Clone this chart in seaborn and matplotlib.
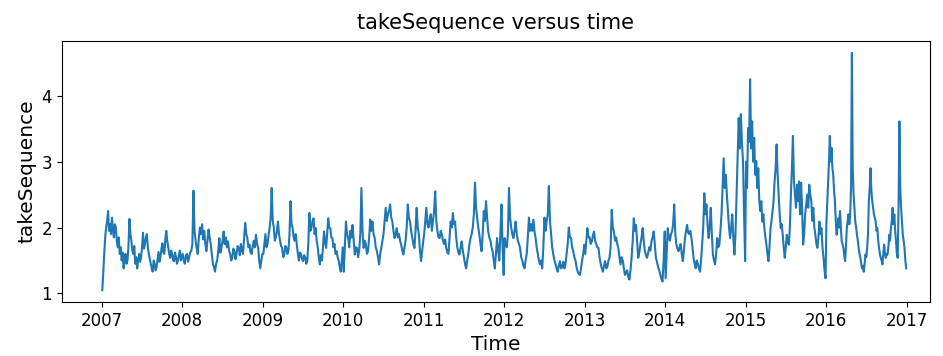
import pandas as pd
import matplotlib
matplotlib.use("Agg")
import matplotlib.pyplot as plt
import matplotlib.dates as mdates
import seaborn as sns

# takeSequence readings, one list per calendar year
take_2007 = [1.05, 1.3, 1.6, 1.85, 2.0, 2.1, 2.25, 1.95, 2.05, 1.9, 2.15, 1.95, 1.85, 2.05,
             2.0, 1.8, 1.7, 1.85, 1.6, 1.7, 1.5, 1.62, 1.38, 1.52, 1.6, 1.45, 1.5, 1.72,
             2.13, 1.9, 1.8, 1.65, 1.6, 1.72, 1.45, 1.55, 1.38, 1.5, 1.6, 1.48, 1.55, 1.7,
             1.92, 1.68, 1.75, 1.85, 1.9, 1.7, 1.6, 1.52, 1.45, 1.38, 1.33, 1.5, 1.45, 1.35,
             1.4, 1.52, 1.63, 1.48, 1.55, 1.68, 1.76, 1.62, 1.6, 1.82, 1.95, 1.8, 1.7, 1.6,
             1.54, 1.65, 1.6, 1.5, 1.49, 1.62, 1.55, 1.45, 1.5, 1.58, 1.65, 1.5, 1.55]
take_2008 = [1.6, 1.5, 1.45, 1.58, 1.6, 1.48, 1.55, 1.62, 1.65, 1.75, 2.56, 1.95, 1.8, 1.68,
             1.6, 1.85, 2.0, 1.9, 2.05, 1.82, 1.95, 1.75, 1.64, 1.8, 1.97, 1.85, 1.75, 1.6,
             1.45, 1.4, 1.33, 1.45, 1.5, 1.65, 1.84, 1.62, 1.7, 1.8, 1.94, 1.75, 1.85, 1.7,
             1.79, 1.65, 1.6, 1.5, 1.54, 1.68, 1.64, 1.52, 1.6, 1.72, 1.69, 1.58, 1.75, 1.65,
             1.6, 1.85, 2.07, 1.9, 1.84, 1.7, 1.74, 1.62, 1.6, 1.72, 1.8, 1.7, 1.89, 1.75,
             1.7, 1.5, 1.38, 1.5, 1.6]
take_2009 = [1.6, 1.75, 1.9, 1.7, 1.75, 1.88, 1.99, 2.15, 2.6, 2.1, 2.0, 1.8, 1.85, 1.95,
             2.09, 1.9, 1.8, 1.72, 1.69, 1.55, 1.59, 1.72, 1.7, 1.6, 1.65, 1.9, 2.4, 2.05,
             1.99, 1.85, 1.8, 1.9, 1.74, 1.6, 1.5, 1.62, 1.6, 1.52, 1.49, 1.58, 1.55, 1.45,
             1.49, 1.75, 2.22, 1.95, 2.0, 2.1, 2.14, 1.9, 1.99, 1.8, 1.7, 1.55, 1.44, 1.58,
             1.5, 1.7, 1.94, 1.8, 1.69, 1.9, 2.14, 2.0, 1.99, 1.85, 1.84, 1.7, 1.75, 1.6,
             1.64, 1.55, 1.5, 1.4, 1.33, 1.5, 1.7]
take_2010 = [1.33, 1.7, 2.09, 1.9, 1.84, 1.7, 1.95, 1.85, 2.04, 1.8, 1.59, 1.7, 1.69, 1.55,
             1.65, 1.9, 2.6, 1.95, 1.69, 1.8, 1.75, 1.6, 1.64, 1.85, 2.12, 1.95, 2.09, 1.9,
             1.84, 1.7, 1.64, 1.55, 1.44, 1.6, 1.69, 1.8, 1.9, 2.1, 2.3, 2.1, 2.2, 2.25,
             2.35, 2.15, 2.09, 1.95, 1.84, 1.9, 1.99, 1.85, 1.9, 1.8, 1.74, 1.65, 1.59, 1.7,
             1.8, 2.0, 2.35, 2.15, 2.09, 1.95, 1.85, 1.75, 1.69, 1.95, 2.3, 2.0, 1.9, 1.65,
             1.49, 1.65, 1.8]
take_2011 = [1.9, 2.1, 2.3, 2.05, 2.0, 2.12, 2.2, 1.95, 2.1, 2.25, 2.55, 2.1, 1.95, 1.85,
             1.84, 1.95, 1.9, 1.8, 1.75, 1.82, 1.69, 1.62, 1.6, 1.85, 2.09, 2.0, 2.22, 2.05,
             2.09, 1.85, 1.7, 1.62, 1.59, 1.7, 1.79, 1.65, 1.55, 1.45, 1.38, 1.5, 1.6, 1.75,
             1.84, 1.9, 2.0, 2.2, 2.68, 2.3, 2.15, 2.0, 1.89, 1.75, 1.64, 1.9, 2.25, 2.1,
             2.4, 2.15, 1.94, 1.85, 1.8, 1.7, 1.64, 1.5, 1.38, 1.6, 1.84, 1.65, 1.5, 1.9,
             2.35, 1.7, 1.28]
take_2012 = [1.84, 1.75, 1.7, 1.9, 2.6, 2.15, 2.0, 1.9, 1.84, 1.95, 2.09, 1.9, 1.8, 1.75,
             1.69, 1.55, 1.5, 1.42, 1.38, 1.5, 1.6, 1.85, 2.15, 1.95, 2.05, 1.95, 2.12, 1.95,
             1.84, 1.7, 1.6, 1.5, 1.44, 1.5, 1.38, 1.7, 2.15, 1.95, 2.09, 2.2, 2.63, 2.1,
             1.89, 1.7, 1.59, 1.5, 1.45, 1.38, 1.33, 1.42, 1.49, 1.38, 1.4, 1.48, 1.38, 1.45,
             1.6, 1.75, 2.0, 1.85, 1.84, 1.7, 1.64, 1.55, 1.5, 1.4, 1.33, 1.3, 1.28, 1.38,
             1.5, 1.6, 1.74]
take_2013 = [1.6, 1.8, 1.99, 1.85, 1.85, 1.75, 1.79, 1.88, 1.94, 1.8, 1.75, 1.7, 1.69, 1.55,
             1.45, 1.38, 1.33, 1.42, 1.49, 1.38, 1.4, 1.5, 1.54, 1.7, 2.27, 2.0, 1.94, 1.8,
             1.85, 1.75, 1.69, 1.55, 1.44, 1.55, 1.5, 1.38, 1.28, 1.32, 1.35, 1.25, 1.21, 1.35,
             1.54, 1.8, 2.14, 1.95, 2.04, 1.8, 1.54, 1.62, 1.75, 1.85, 1.99, 1.8, 1.64, 1.58,
             1.54, 1.62, 1.7, 1.65, 1.79, 1.85, 1.94, 1.75, 1.54, 1.48, 1.4, 1.35, 1.28, 1.22,
             1.18, 1.5, 1.94]
take_2014 = [1.23, 1.6, 1.99, 1.85, 1.8, 1.9, 1.94, 2.05, 2.35, 1.9, 1.74, 1.68, 1.64, 1.7,
             1.75, 1.6, 1.49, 1.65, 1.84, 1.95, 2.04, 1.92, 1.9, 1.95, 1.84, 1.7, 1.54, 1.45,
             1.38, 1.5, 1.45, 1.38, 1.33, 1.5, 1.74, 2.0, 2.52, 2.2, 2.35, 2.05, 1.84, 2.0,
             2.3, 1.9, 1.59, 1.5, 1.44, 1.6, 1.84, 1.7, 1.74, 1.95, 2.2, 2.6, 3.05, 2.6,
             2.8, 2.5, 2.25, 2.0, 1.84, 2.0, 2.2, 1.85, 1.59, 1.9, 2.5, 3.1, 3.66, 3.2,
             3.72, 3.3, 3.0, 2.2, 1.49]
take_2015 = [3.0, 2.6, 3.51, 3.3, 4.25, 3.2, 3.61, 3.0, 3.36, 2.8, 3.01, 2.6, 2.9, 2.4,
             2.25, 2.4, 2.09, 2.2, 1.99, 1.85, 1.74, 1.6, 1.49, 1.7, 1.99, 2.1, 2.25, 2.4,
             2.7, 2.9, 3.26, 2.8, 2.5, 2.2, 1.99, 2.05, 1.89, 1.7, 1.54, 1.7, 1.89, 1.8,
             1.74, 2.0, 2.5, 2.9, 3.39, 2.7, 2.5, 2.3, 2.65, 2.4, 2.7, 2.2, 2.68, 2.3,
             1.74, 1.9, 2.2, 2.35, 2.5, 2.3, 2.65, 2.5, 2.4, 2.1, 2.3, 2.0, 1.89, 1.75,
             1.69, 1.85, 2.09, 1.9, 1.99, 1.7, 1.54, 1.35, 1.23]
take_2016 = [2.09, 2.4, 2.7, 3.0, 3.39, 3.0, 3.21, 2.9, 2.8, 2.55, 2.4, 2.1, 1.89, 2.0,
             2.14, 2.0, 2.25, 2.0, 1.79, 1.75, 1.69, 1.58, 1.49, 1.7, 1.99, 2.1, 2.2, 2.05,
             2.2, 2.6, 4.65, 2.9, 2.5, 2.3, 2.09, 2.0, 1.89, 1.8, 1.69, 1.6, 1.54, 1.45,
             1.38, 1.42, 1.33, 1.45, 1.59, 1.55, 1.69, 1.9, 2.4, 2.6, 2.9, 2.55, 2.4, 2.3,
             2.2, 2.15, 2.09, 1.95, 1.99, 1.8, 1.69, 1.6, 1.54, 1.5, 1.44, 1.6, 1.74, 1.6,
             1.54, 1.6, 1.59, 1.7, 1.89, 1.8, 1.99, 2.1, 2.3, 2.05, 2.2, 1.95, 1.79, 1.6,
             1.54, 2.3, 3.61, 2.6, 2.3, 2.1, 1.89, 1.8, 1.69, 1.5, 1.38]

years = [2007, 2008, 2009, 2010, 2011, 2012, 2013, 2014, 2015, 2016]
yearly_values = [take_2007, take_2008, take_2009, take_2010, take_2011,
                 take_2012, take_2013, take_2014, take_2015, take_2016]

# spread each year's readings over that year's calendar
frames = []
for year, vals in zip(years, yearly_values):
    stamps = pd.date_range(f"{year}-01-03", f"{year}-12-30", periods=len(vals))
    frames.append(pd.DataFrame({"Time": stamps, "takeSequence": vals}))
df = pd.concat(frames, ignore_index=True)

fig = plt.figure(figsize=(9.43, 3.56), dpi=100)
ax = fig.add_axes([0.0657, 0.1517, 0.9205, 0.7331])
sns.lineplot(data=df, x="Time", y="takeSequence", ax=ax,
             color="#1f77b4", linewidth=1.5)

ax.set_title("takeSequence versus time", fontsize=15, pad=8.5)
ax.set_xlabel("Time", fontsize=14.5)
ax.set_ylabel("takeSequence", fontsize=14.5)
ax.tick_params(labelsize=12)
ax.xaxis.set_major_locator(mdates.YearLocator())
ax.xaxis.set_major_formatter(mdates.DateFormatter("%Y"))
ax.set_xlim(pd.Timestamp("2006-07-04"), pd.Timestamp("2017-04-17"))
ax.set_yticks([1, 2, 3, 4])

fig.savefig("out.png", dpi=100)
